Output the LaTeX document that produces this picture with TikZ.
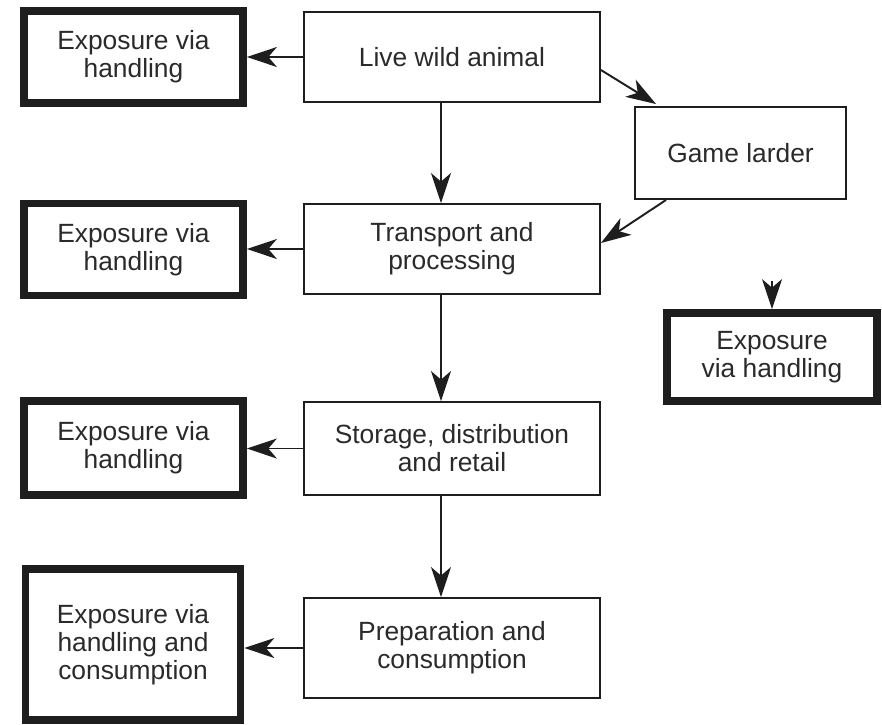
\documentclass[tikz,border=0pt]{standalone}
\usepackage{xcolor}
\usepackage{fontspec}
\setmainfont{Liberation Sans}
\usepackage{tikz}
\usetikzlibrary{positioning,arrows.meta}
\definecolor{inkline}{HTML}{1e1e1e}
\definecolor{inktext}{HTML}{2a2a2a}
\tikzset{
  stepbox/.style={draw=inkline, line width=1.1pt, fill=white,
                  minimum width=5.92cm, minimum height=1.8cm,
                  align=center, text=inktext,
                  font=\fontsize{15}{16}\selectfont},
  expbox/.style={draw=inkline, line width=4.4pt, fill=white,
                 minimum width=4.38cm, minimum height=1.84cm,
                 align=center, text=inktext,
                 font=\fontsize{15}{16}\selectfont},
  flowarrow/.style={-{Stealth[length=0.6cm,width=0.4cm,inset=0.17cm]},
                    draw=inkline, line width=1.1pt}
}
\begin{document}
\begin{tikzpicture}[x=0.02cm, y=-0.02cm]
  \useasboundingbox (0,0) rectangle (882,724);

  % --- main chain ---
  \node[stepbox] (live) at (452, 57) {Live wild animal};
  \node[stepbox] (transport) at (452, 249) {Transport and\\processing};
  \node[stepbox, minimum height=1.86cm] (storage) at (452, 448.5)
       {Storage, distribution\\and retail};
  \node[stepbox, minimum height=2cm] (prep) at (452, 648)
       {Preparation and\\consumption};

  % --- game larder branch ---
  \node[stepbox, minimum width=4.22cm, minimum height=1.84cm] (larder)
       at (740.5, 153) {Game larder};

  % --- exposure boxes ---
  \node[expbox] (exp1) at (133.5, 57) {Exposure via\\handling};
  \node[expbox] (exp2) at (133.5, 249.5) {Exposure via\\handling};
  \node[expbox, minimum height=1.88cm] (exp3) at (133.5, 448)
       {Exposure via\\handling};
  \node[expbox, minimum width=4.3cm, minimum height=3.02cm] (exp4)
       at (133, 644.5) {Exposure via\\handling and\\consumption};
  \node[expbox, minimum width=4.2cm, minimum height=1.76cm] (expR)
       at (772, 357) {Exposure\\via handling};
  \coordinate (drop) at ([yshift=0.56cm]expR.north);

  % --- arrows down the chain ---
  \draw[flowarrow] ([xshift=-0.22cm]live.south) -- ([xshift=-0.22cm]transport.north);
  \draw[flowarrow] ([xshift=-0.22cm]transport.south) -- ([xshift=-0.22cm]storage.north);
  \draw[flowarrow] ([xshift=-0.22cm]storage.south) -- ([xshift=-0.22cm]prep.north);

  % --- arrows to exposure ---
  \draw[flowarrow] (live.west) -- (live.west -| exp1.east);
  \draw[flowarrow] (transport.west) -- (transport.west -| exp2.east);
  \draw[flowarrow] (storage.west) -- (storage.west -| exp3.east);
  \draw[flowarrow] (prep.west) -- (prep.west -| exp4.east);
  \draw[flowarrow] (drop) -- (expR.north);

  % --- via the larder ---
  \draw[flowarrow] ([yshift=-0.26cm]live.east) -- ([xshift=0.44cm,yshift=0.04cm]larder.north west);
  \draw[flowarrow] ([xshift=0.64cm]larder.south west) -- ([yshift=0.12cm]transport.east);

\end{tikzpicture}
\end{document}
